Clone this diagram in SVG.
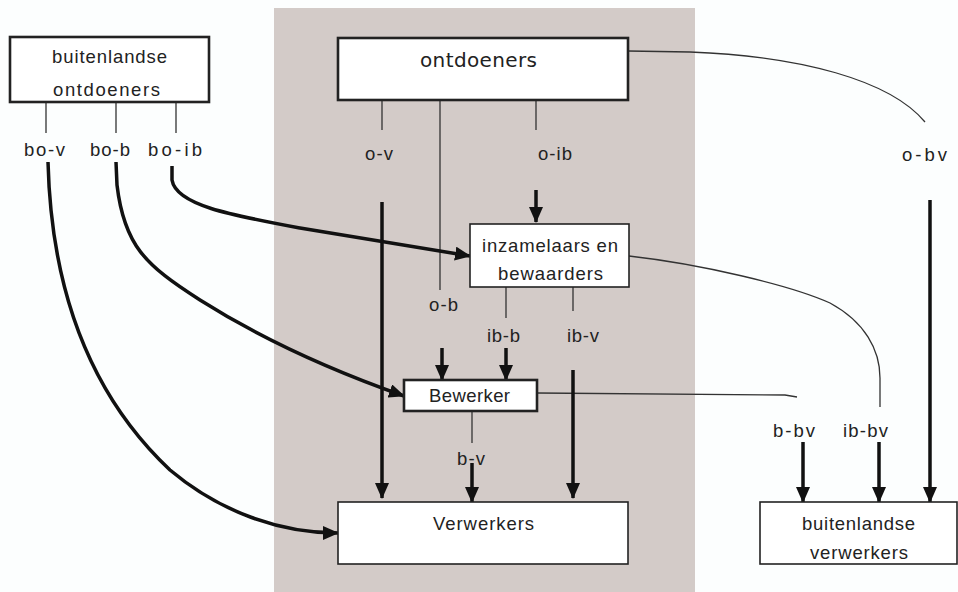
<svg xmlns="http://www.w3.org/2000/svg" width="958" height="592" viewBox="0 0 958 592">
  <defs>
    <marker id="arrow" markerUnits="userSpaceOnUse" markerWidth="16" markerHeight="14" refX="15" refY="7" orient="auto">
      <path d="M0,0 L16,7 L0,14 z" fill="#111"/>
    </marker>
    <style>
      .box { fill: #ffffff; stroke: #222; stroke-width: 1.6; }
      .box-thick { fill: #ffffff; stroke: #222; stroke-width: 2.6; }
      .txt { font-family: "Liberation Sans", Arial, sans-serif; font-size: 18.5px; fill: #222; }
      .txt-dv { font-family: "DejaVu Sans", sans-serif; font-size: 20px; fill: #222; }
      .thin { fill: none; stroke: #333; stroke-width: 1.3; }
      .flow { fill: none; stroke: #111; stroke-width: 3.5; marker-end: url(#arrow); }
    </style>
  </defs>

  <!-- page and domestic band -->
  <rect x="0" y="0" width="958" height="592" fill="#fcfefe"/>
  <rect x="274" y="8" width="421" height="584" fill="#d3cbc8"/>

  <!-- connectors -->
  <g id="connectors">
    <!-- stubs from sources -->
    <path class="thin" d="M46,102 V133 M116,102 V133 M176,102 V133"/>
    <path class="thin" d="M382,100 V130 M536,100 V130 M440,100 V290"/>
    <path class="thin" d="M506,287 V318 M573,287 V311"/>
    <path class="thin" d="M472,411 V443"/>
    <!-- links leaving towards foreign processors -->
    <path class="thin" d="M628,51 L690,52 C800,56 890,80 925,122"/>
    <path class="thin" d="M629,256 C700,264 790,285 830,303 C865,322 880,350 880,378 L880,407"/>
    <path class="thin" d="M537,393 L785,395 L797,397"/>

    <!-- straight flows -->
    <path class="flow" d="M382,202 V498"/>
    <path class="flow" d="M536,190 V222"/>
    <path class="flow" d="M442,348 V380"/>
    <path class="flow" d="M506,348 V380"/>
    <path class="flow" d="M573,370 V498"/>
    <path class="flow" d="M472,463 V502"/>
    <path class="flow" d="M803,442 V502"/>
    <path class="flow" d="M879,442 V502"/>
    <path class="flow" d="M930,200 V502"/>

    <!-- curved flows from foreign sources -->
    <path class="flow" d="M172,166 L172,180 C176,205 230,215 300,228 L470,256"/>
    <path class="flow" d="M116,162 L117,185 C124,245 145,265 200,300 C260,338 330,370 404,396"/>
    <path class="flow" d="M48,162 C51,280 85,390 170,470 C220,512 280,533 338,533"/>
  </g>

  <!-- flow labels -->
  <g id="labels">
    <text class="txt" x="24" y="156" textLength="41">bo-v</text>
    <text class="txt" x="90" y="156" textLength="40">bo-b</text>
    <text class="txt" x="148" y="156" textLength="54">bo-ib</text>
    <text class="txt" x="365" y="160" textLength="28">o-v</text>
    <text class="txt" x="538" y="160" textLength="34">o-ib</text>
    <text class="txt" x="902" y="161" textLength="45">o-bv</text>
    <text class="txt" x="429" y="311" textLength="29">o-b</text>
    <text class="txt" x="487" y="342" textLength="33">ib-b</text>
    <text class="txt" x="567" y="342" textLength="32">ib-v</text>
    <text class="txt" x="457" y="465" textLength="28">b-v</text>
    <text class="txt" x="773" y="437" textLength="42">b-bv</text>
    <text class="txt" x="843" y="437" textLength="45">ib-bv</text>
  </g>

  <!-- nodes -->
  <g id="buitenlandse-ontdoeners">
    <rect class="box-thick" x="10" y="37" width="199" height="65"/>
    <text class="txt" x="52" y="63" textLength="115">buitenlandse</text>
    <text class="txt" x="53" y="96" textLength="107">ontdoeners</text>
  </g>

  <g id="ontdoeners">
    <rect class="box-thick" x="338" y="38" width="290" height="62"/>
    <text class="txt-dv" x="420" y="67" textLength="117">ontdoeners</text>
  </g>

  <g id="inzamelaars">
    <rect class="box" x="470" y="224" width="159" height="63"/>
    <text class="txt" x="482" y="252" textLength="136">inzamelaars en</text>
    <text class="txt" x="498" y="280" textLength="105">bewaarders</text>
  </g>

  <g id="bewerker">
    <rect class="box-thick" x="404" y="380" width="133" height="31"/>
    <text class="txt" x="429" y="402" textLength="81">Bewerker</text>
  </g>

  <g id="verwerkers">
    <rect class="box" x="338" y="502" width="290" height="62"/>
    <text class="txt" x="433" y="530" textLength="101">Verwerkers</text>
  </g>

  <g id="buitenlandse-verwerkers">
    <rect class="box" x="760" y="502" width="197" height="62"/>
    <text class="txt" x="802" y="530" textLength="113">buitenlandse</text>
    <text class="txt" x="810" y="559" textLength="98">verwerkers</text>
  </g>
</svg>
